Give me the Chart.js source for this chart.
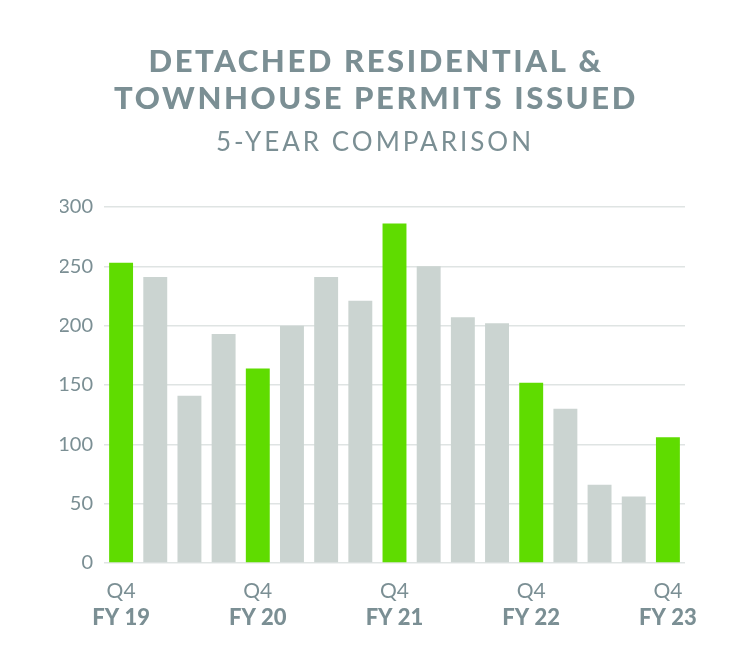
<!DOCTYPE html>
<html>
<head>
<meta charset="utf-8">
<title>Detached Residential & Townhouse Permits Issued</title>
<script src="https://cdn.jsdelivr.net/npm/chart.js@4/dist/chart.umd.min.js"></script>
<style>
  html, body { margin: 0; padding: 0; background: #fff; }
  #wrap { width: 750px; height: 670px; }
</style>
</head>
<body>
<div id="wrap"><canvas id="permits"></canvas></div>
<script>
// permits issued per quarter, Q4 FY19 through Q4 FY23
const quarters = ['Q4', 'Q1', 'Q2', 'Q3', 'Q4', 'Q1', 'Q2', 'Q3', 'Q4', 'Q1', 'Q2', 'Q3', 'Q4', 'Q1', 'Q2', 'Q3', 'Q4'];
const fiscalYears = ['FY 19', 'FY 20', 'FY 20', 'FY 20', 'FY 20', 'FY 21', 'FY 21', 'FY 21', 'FY 21', 'FY 22', 'FY 22', 'FY 22', 'FY 22', 'FY 23', 'FY 23', 'FY 23', 'FY 23'];
const permits = [253, 241, 141, 193, 164, 200, 241, 221, 286, 250, 207, 202, 152, 130, 66, 56, 106];
const yTicks = [0, 50, 100, 150, 200, 250, 300];

const titleLines = ['DETACHED RESIDENTIAL &', 'TOWNHOUSE PERMITS ISSUED'];
const subtitle = '5-YEAR COMPARISON';

const GREEN = '#5fdc00';
const GREY = '#cbd4d1';
const TEXT = '#7b8f94';

const categories = quarters.map((q, i) => q + ' ' + fiscalYears[i]);

// titles drawn by hand so the letter spacing can be set
const titlePlugin = {
  id: 'spacedTitle',
  afterDraw(chart) {
    const ctx = chart.ctx;
    ctx.save();
    ctx.fillStyle = TEXT;
    ctx.textAlign = 'center';
    ctx.textBaseline = 'alphabetic';
    ctx.font = '900 31px Lato';
    ctx.letterSpacing = '2.6px';
    ctx.fillText(titleLines[0], 376, 72);
    ctx.fillText(titleLines[1], 376, 109);
    ctx.font = '26px Lato';
    ctx.letterSpacing = '3px';
    ctx.fillText(subtitle, 375, 151);
    ctx.restore();
  }
};

new Chart(document.getElementById('permits'), {
  type: 'bar',
  data: {
    labels: categories,
    datasets: [{
      data: permits,
      backgroundColor: quarters.map(q => q === 'Q4' ? GREEN : GREY),
      borderWidth: 0,
      categoryPercentage: 1,
      barPercentage: 0.7
    }]
  },
  options: {
    responsive: true,
    maintainAspectRatio: false,
    animation: false,
    layout: { padding: { top: 207, left: 60, right: 65, bottom: 41 } },
    plugins: {
      legend: { display: false },
      tooltip: { enabled: false }
    },
    scales: {
      x: {
        position: 'bottom',
        offset: true,
        grid: { display: false, drawTicks: false },
        border: { display: false },
        afterFit: (s) => { s.height = 39; },
        ticks: {
          autoSkip: false,
          maxRotation: 0,
          padding: 16,
          color: TEXT,
          font: { family: 'Lato', size: 21 },
          callback: (v, i) => quarters[i] === 'Q4' ? quarters[i] : ''
        }
      },
      x2: {
        type: 'category',
        position: 'bottom',
        offset: true,
        labels: categories,
        grid: { display: false, drawTicks: false },
        border: { display: false },
        afterFit: (s) => { s.height = 27; },
        ticks: {
          autoSkip: false,
          maxRotation: 0,
          padding: 3,
          color: TEXT,
          font: { family: 'Lato', size: 22, weight: '900' },
          callback: (v, i) => quarters[i] === 'Q4' ? fiscalYears[i] : ''
        }
      },
      y: {
        min: 0,
        max: 300,
        afterFit: (s) => { s.width = 44; },
        afterBuildTicks: (s) => { s.ticks = yTicks.map(v => ({ value: v })); },
        border: { display: false },
        grid: { color: '#dfe4e3', lineWidth: 1.5, drawTicks: false },
        ticks: {
          padding: 11,
          color: TEXT,
          font: { family: 'Lato', size: 20 }
        }
      }
    }
  },
  plugins: [titlePlugin]
});
</script>
</body>
</html>
